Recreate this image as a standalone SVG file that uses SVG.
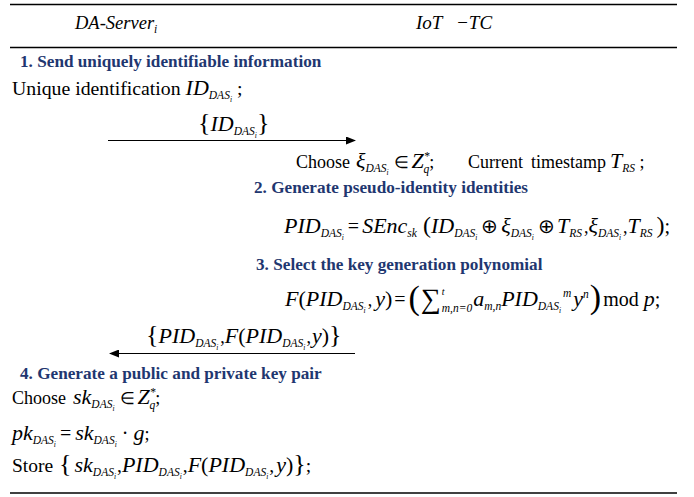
<svg xmlns="http://www.w3.org/2000/svg" width="694" height="497" viewBox="0 0 694 497">
<defs>
<style>
text{font-family:"Liberation Serif","Times New Roman",serif;fill:#000;font-size:18px}
.it{font-style:italic}
.m{font-style:italic;font-size:22px}
.sb{font-style:italic;font-size:11.5px}
.ss{font-style:italic;font-size:7.5px}
.op{font-size:20px}
.h{font-weight:bold;font-size:17.2px;fill:#1f3770}
.br{font-size:26px}
.rule{stroke:#000;stroke-width:1.3}
.conn{stroke:#000;stroke-width:1.2;fill:none}
</style>
<marker id="ah" markerWidth="10" markerHeight="8" refX="9" refY="4" orient="auto" markerUnits="userSpaceOnUse">
<path d="M0,0 L10,4 L0,8 Z" fill="#000"/>
</marker>
</defs>
<rect width="694" height="497" fill="#fff"/>
<g id="rules">
<line class="rule" x1="10" y1="4.5" x2="677" y2="4.5"/>
<line class="rule" x1="10" y1="47.5" x2="677" y2="47.5"/>
<line class="rule" x1="10" y1="493" x2="677" y2="493"/>
</g>
<g id="header">
<text x="75" y="29" class="it" style="font-size:18.5px">DA-Server<tspan class="sb" dy="4">i</tspan></text>
<text x="416" y="29" class="it" style="font-size:19px">IoT <tspan x="456">−TC</tspan></text>
</g>
<g id="step1">
<text x="20" y="67" class="h">1. Send uniquely identifiable information</text>
<text x="12" y="95" style="font-size:19.8px">Unique identification <tspan class="m">ID</tspan><tspan class="sb" dy="4">DAS</tspan><tspan class="ss" dy="3">i</tspan><tspan dy="-7"> ;</tspan></text>
</g>
<g id="connectors">
<line class="conn" x1="108" y1="140.5" x2="355" y2="140.5" marker-end="url(#ah)"/>
<line class="conn" x1="355" y1="353.5" x2="110" y2="353.5" marker-end="url(#ah)"/>
<text x="198" y="131"><tspan class="br">{</tspan><tspan class="m">ID</tspan><tspan class="sb" dy="4">DAS</tspan><tspan class="ss" dy="3">i</tspan><tspan class="br" dy="-7">}</tspan></text>
<text x="146" y="343"><tspan class="br">{</tspan><tspan class="m">PID</tspan><tspan class="sb" dy="4">DAS</tspan><tspan class="ss" dy="3">i</tspan><tspan dy="-7" dx="2">,</tspan><tspan class="m">F</tspan><tspan class="m" style="font-style:normal">(</tspan><tspan class="m">PID</tspan><tspan class="sb" dy="4">DAS</tspan><tspan class="ss" dy="3">i</tspan><tspan dy="-7" dx="1">,</tspan><tspan class="m" dx="1">y</tspan><tspan class="m" style="font-style:normal">)</tspan><tspan class="br">}</tspan></text>
</g>
<g id="iot-step">
<text x="296" y="168">Choose <tspan class="m" x="356">ξ</tspan><tspan class="sb" dy="4">DAS</tspan><tspan class="ss" dy="3">i</tspan><tspan dy="-7" font-size="17" dx="5">∈</tspan><tspan class="m" dx="3">Z</tspan><tspan class="sb" dy="-8">*</tspan><tspan class="sb" dx="-6" dy="13">q</tspan><tspan dy="-5">;</tspan><tspan x="468">Current</tspan><tspan x="531">timestamp</tspan><tspan class="m" x="610">T</tspan><tspan class="sb" dy="4">RS</tspan><tspan dy="-4"> ;</tspan></text>
</g>
<g id="step2">
<text x="254" y="193" class="h">2. Generate pseudo-identity identities</text>
<text x="284" y="233"><tspan class="m">PID</tspan><tspan class="sb" dy="4">DAS</tspan><tspan class="ss" dy="3">i</tspan><tspan class="op" dy="-7" dx="4">=</tspan><tspan class="m" dx="3">SEnc</tspan><tspan class="sb" dy="4">sk</tspan><tspan dy="-4" font-size="24" dx="6">(</tspan><tspan class="m">ID</tspan><tspan class="sb" dy="4">DAS</tspan><tspan class="ss" dy="3">i</tspan><tspan class="op" dy="-7" dx="4">⊕</tspan><tspan class="m" dx="3">ξ</tspan><tspan class="sb" dy="4">DAS</tspan><tspan class="ss" dy="3">i</tspan><tspan class="op" dy="-7" dx="4">⊕</tspan><tspan class="m" dx="2">T</tspan><tspan class="sb" dy="4">RS</tspan><tspan dy="-4" dx="2">,</tspan><tspan class="m">ξ</tspan><tspan class="sb" dy="4">DAS</tspan><tspan class="ss" dy="3">i</tspan><tspan dy="-7" dx="2">,</tspan><tspan class="m">T</tspan><tspan class="sb" dy="4">RS</tspan><tspan dy="-4" font-size="24" dx="4">)</tspan><tspan class="op">;</tspan></text>
</g>
<g id="step3">
<text x="256" y="270" class="h">3. Select the key generation polynomial</text>
<text x="285" y="306"><tspan class="m">F</tspan><tspan class="op" style="font-size:22px">(</tspan><tspan class="m">PID</tspan><tspan class="sb" dy="4">DAS</tspan><tspan class="ss" dy="3">i</tspan><tspan dy="-7" dx="2">,</tspan><tspan class="m" dx="3">y</tspan><tspan class="op" style="font-size:22px">)</tspan><tspan class="op" dx="2">=</tspan><tspan style="font-size:34px" dx="3" dy="3">(</tspan><tspan style="font-size:28px" dx="1" dy="-1">∑</tspan><tspan class="sb" style="font-size:10px" dx="1" dy="-13">t</tspan><tspan class="sb" dx="-2.8" dy="17">m,n=0</tspan><tspan class="m" dx="1" dy="-6">a</tspan><tspan class="sb" dy="4">m,n</tspan><tspan class="m" dy="-4">PID</tspan><tspan class="sb" dy="4">DAS</tspan><tspan class="ss" dy="3">i</tspan><tspan class="sb" dx="2" dy="-16">m</tspan><tspan class="m" dx="2" dy="9">y</tspan><tspan class="sb" dy="-8">n</tspan><tspan style="font-size:34px" dx="1" dy="10">)</tspan><tspan class="op" dx="2" dy="-2">mod </tspan><tspan class="m">p</tspan><tspan class="op">;</tspan></text>
</g>
<g id="step4">
<text x="20" y="379" class="h">4. Generate a public and private key pair</text>
<text x="12" y="404">Choose<tspan class="m" x="73">sk</tspan><tspan class="sb" dy="4">DAS</tspan><tspan class="ss" dy="3">i</tspan><tspan dy="-7" font-size="17" dx="5">∈</tspan><tspan class="m" dx="3">Z</tspan><tspan class="sb" dy="-8">*</tspan><tspan class="sb" dx="-6" dy="13">q</tspan><tspan dy="-5">;</tspan></text>
<text x="12" y="440"><tspan class="m">pk</tspan><tspan class="sb" dy="4">DAS</tspan><tspan class="ss" dy="3">i</tspan><tspan class="op" dx="4" dy="-7">=</tspan><tspan class="m" dx="4">sk</tspan><tspan class="sb" dy="4">DAS</tspan><tspan class="ss" dy="3">i</tspan><tspan class="op" dx="5" dy="-7">·</tspan><tspan class="m" dx="5">g</tspan><tspan>;</tspan></text>
<text x="12" y="472" style="font-size:19.5px">Store <tspan class="br" dx="1">{</tspan><tspan class="m" dx="3">sk</tspan><tspan class="sb" dy="4">DAS</tspan><tspan class="ss" dy="3">i</tspan><tspan dy="-7" dx="1">,</tspan><tspan class="m">PID</tspan><tspan class="sb" dy="4">DAS</tspan><tspan class="ss" dy="3">i</tspan><tspan dy="-7" dx="1">,</tspan><tspan class="m">F</tspan><tspan class="m" style="font-style:normal">(</tspan><tspan class="m">PID</tspan><tspan class="sb" dy="4">DAS</tspan><tspan class="ss" dy="3">i</tspan><tspan dy="-7" dx="1">,</tspan><tspan class="m" dx="2">y</tspan><tspan class="m" style="font-style:normal">)</tspan><tspan class="br">}</tspan><tspan>;</tspan></text>
</g>
</svg>
